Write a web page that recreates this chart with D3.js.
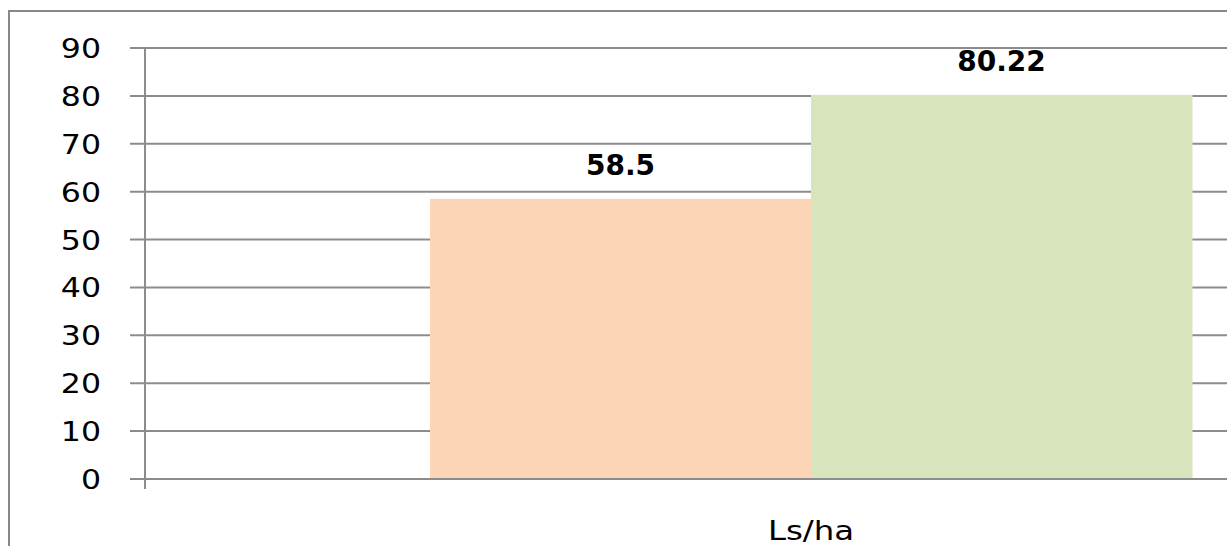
<!DOCTYPE html>
<html><head><meta charset="utf-8">
<script src="https://cdn.jsdelivr.net/npm/d3@7"></script>
<style>body{margin:0;background:#fff}svg{display:block}text{font-family:"DejaVu Sans",Verdana,sans-serif}</style>
</head><body><svg id="c" width="1227" height="546"></svg>
<script>
const categories = ["Ls/ha"];
const seriesNames = ["A", "B"];
const seriesValues = [58.5, 80.22];
const seriesLabels = ["58.5", "80.22"];
const tickValues = [0,10,20,30,40,50,60,70,80,90];
const colors = ["#FBD5B5", "#D7E4BC"];

const svg = d3.select("#c");
svg.append("rect").attr("x",9).attr("y",11).attr("width",1240).attr("height",560)
  .attr("fill","none").attr("stroke","#888").attr("stroke-width",2);

const y = d3.scaleLinear().domain([0,90]).range([479,48]);
const x0 = d3.scaleBand().domain(categories).range([145,1477]).paddingInner(0).paddingOuter(0.374);
const x1 = d3.scaleBand().domain(seriesNames).range([0,x0.bandwidth()]);

// gridlines
svg.append("g").selectAll("line").data(tickValues).join("line")
  .attr("x1",130).attr("x2",1227).attr("y1",d=>y(d)).attr("y2",d=>y(d))
  .attr("stroke","#8c8c8c").attr("stroke-width",2);

// bars
const g = svg.append("g").attr("transform",`translate(${x0(categories[0])},0)`);
g.selectAll("rect").data(seriesValues).join("rect")
  .attr("x",(d,i)=>x1(seriesNames[i])).attr("width",x1.bandwidth()+0.5)
  .attr("y",d=>y(d)).attr("height",d=>y(0)-y(d)).attr("fill",(d,i)=>colors[i]);
g.selectAll("text").data(seriesValues).join("text")
  .attr("x",(d,i)=>x1(seriesNames[i])+x1.bandwidth()/2).attr("y",d=>y(d)-24)
  .attr("text-anchor","middle").attr("font-weight","bold").attr("font-size",28)
  .attr("fill","#000").text((d,i)=>seriesLabels[i]);

// axis line
svg.append("line").attr("x1",145).attr("x2",145).attr("y1",48).attr("y2",489)
  .attr("stroke","#8c8c8c").attr("stroke-width",2);
// bottom line redraw over bars
svg.append("line").attr("x1",145).attr("x2",1227).attr("y1",y(0)).attr("y2",y(0))
  .attr("stroke","#8c8c8c").attr("stroke-width",2);

// tick labels
svg.append("g").selectAll("text").data(tickValues).join("text")
  .attr("transform",d=>`translate(101,${y(d)+10}) scale(1.17,1)`)
  .attr("text-anchor","end").attr("font-size",27).attr("fill","#000").text(d=>d);

// category label
svg.append("g").selectAll("text").data(categories).join("text")
  .attr("transform",d=>`translate(${x0(d)+x0.bandwidth()/2},540) scale(1.2,1)`)
  .attr("text-anchor","middle").attr("font-size",27).attr("fill","#000").text(d=>d);
</script></body></html>
